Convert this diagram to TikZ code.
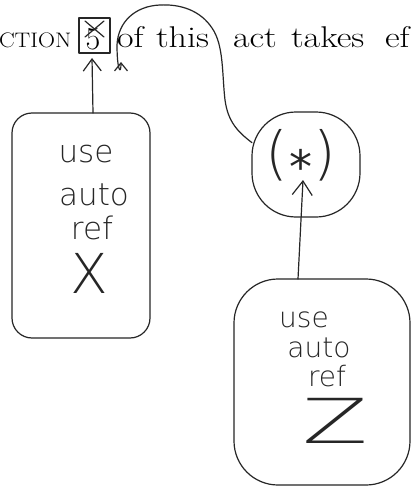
\documentclass[tikz,border=0pt]{standalone}
\usepackage{fontspec}
\usepackage{graphicx}
\usetikzlibrary{arrows.meta}
\newfontfamily\handfont{DejaVu Sans ExtraLight}
\newfontfamily\handbold{DejaVu Sans}
\newcommand\wide[1]{\scalebox{1.2}[1]{#1}}
\begin{document}
\begin{tikzpicture}[x=1pt,y=-1pt,
  pen/.style={line width=1.2pt, draw=black!85, line cap=round, line join=round},
  blobshape/.style={pen, rectangle, inner sep=0pt, outer sep=0pt},
  penarrow/.style={pen, -{Straight Barb[length=12pt,width=18pt]}},
  printed/.style={inner sep=0pt, outer sep=0pt, anchor=base west, font=\fontsize{30}{30}\selectfont},
  hand/.style={inner sep=0pt, outer sep=0pt, anchor=base, text=black!85, font=\handfont\fontsize{31}{31}\selectfont},
  handsmall/.style={hand, font=\handfont\fontsize{28}{28}\selectfont}]
\fill[white] (0,0) rectangle (412,487);
\useasboundingbox (0,0) rectangle (412,487);
\clip (0,0) rectangle (412,487);

% printed line
\node[printed] (sec) at (-1,48) {\scalebox{1.12}[1]{\fontsize{21}{21}\selectfont CTION}};
\node[printed, anchor=base] (five) at (93,49) {\fontsize{32}{32}\selectfont 5};
\node[blobshape, minimum width=31pt, minimum height=35pt] (fivebox) at (94.5,35.5) {};
\draw[pen] (85,21) -- (104,37) (104,21) -- (85,37);
\node[printed] (of) at (117,48) {\wide{of}};
\node[printed] (this) at (156,48) {\wide{this}};
\node[printed] (act) at (233,48) {\wide{act}};
\node[printed] (takes) at (291,48) {\wide{takes}};
\node[printed] (ef) at (385,48) {\wide{ef}};

% left box
\node[blobshape, minimum width=138pt, minimum height=225pt, rounded corners=20pt] (bx) at (81,225.5) {};
\node[hand] (ux) at (86,162) {use};
\node[hand] (ax) at (94,205) {auto};
\node[hand] (rx) at (92,239) {ref};
\node[hand, font=\handfont\fontsize{55}{55}\selectfont] (xx) at (89,293) {X};

% blob
\node[blobshape, minimum width=108pt, minimum height=105pt, rounded corners=44pt] (blob) at (306,164.5) {};
\node[hand, anchor=center] (stx) at (301,156) {\fontsize{58}{58}\selectfont(\hspace{1pt}\raisebox{-10pt}{\handbold\fontsize{46}{46}\selectfont*}\hspace{1pt})};

% Z box
\node[blobshape, minimum width=176pt, minimum height=206pt, rounded corners=44pt] (zb) at (322,382) {};
\node[handsmall] (uz) at (304,327) {use};
\node[handsmall] (az) at (319,357) {auto};
\node[handsmall] (rz) at (327,386) {ref};
\node[hand, font=\handfont\fontsize{62}{62}\selectfont] (zz) at (335,443) {\scalebox{1.55}[1]{Z}};

% connectors
\draw[penarrow] ([xshift=12pt]bx.north) -- ([xshift=-2.5pt,yshift=-5pt]fivebox.south);
\draw[pen, -{Straight Barb[length=14pt,width=20pt]}] ([xshift=-24pt]zb.north) -- ([xshift=2pt,yshift=3pt]stx.south);
\coordinate (hook) at (121,62);
\draw[pen, -{Straight Barb[length=8pt,width=13pt]}] (blob.158)
  .. controls (238,132) and (228,122) .. (225,100)
  .. controls (222,75) and (224,45) .. (212,28)
  .. controls (200,10) and (180,4) .. (160,5)
  .. controls (135,6) and (118,22) .. (117,45)
  .. controls (117,70) and (121,76) .. (hook);
\end{tikzpicture}
\end{document}
